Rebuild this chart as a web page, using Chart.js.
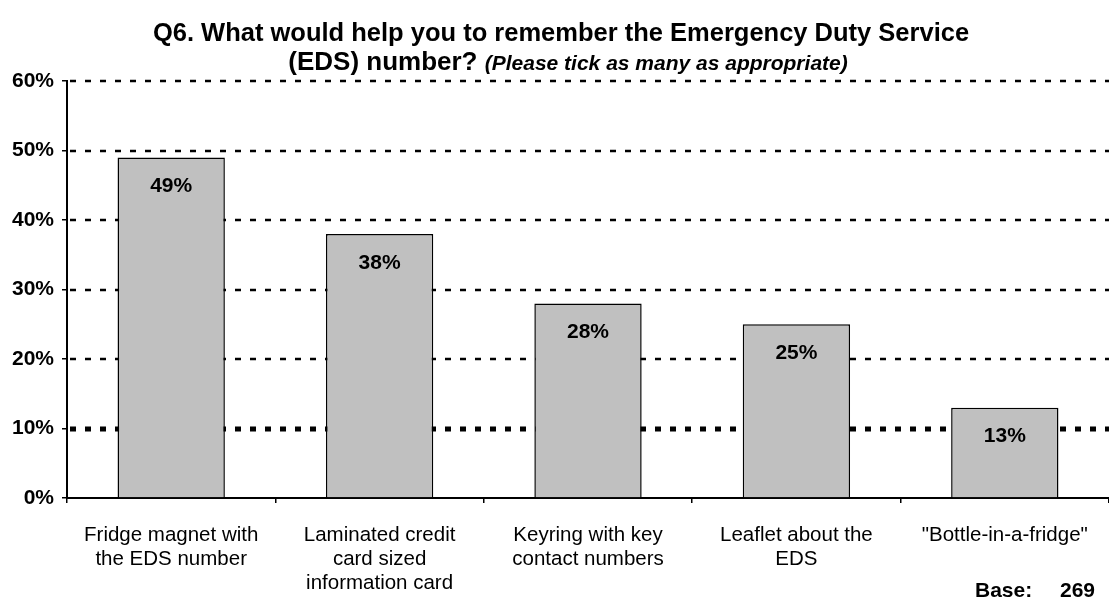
<!DOCTYPE html>
<html>
<head>
<meta charset="utf-8">
<script src="https://cdn.jsdelivr.net/npm/chart.js@4.4.0/dist/chart.umd.min.js"></script>
<style>
    html, body { margin: 0; padding: 0; background: #ffffff; }
    #wrap { width: 1109px; height: 599px; position: relative; }
</style>
</head>
<body>
<div id="wrap"><canvas id="q6_chart"></canvas></div>
<script>
var answerLabels = [
    ["Fridge magnet with", "the EDS number"],
    ["Laminated credit", "card sized", "information card"],
    ["Keyring with key", "contact numbers"],
    ["Leaflet about the", "EDS"],
    ["\"Bottle-in-a-fridge\""]
];
var answerPercent = [49, 38, 28, 25, 13];
var yTicks = [0, 10, 20, 30, 40, 50, 60];
var titleMain = "Q6. What would help you to remember the Emergency Duty Service";
var titleSecond = "(EDS) number?";
var titleNote = "(Please tick as many as appropriate)";
var baseCount = 269;

var FONT = "Arial, 'Liberation Sans', sans-serif";

// title, the dotted grid, value labels and the "Base" note are drawn by hand
const headerPlugin = {
    id: 'header',
    beforeDatasetsDraw(chart) {
        const ctx = chart.ctx;
        const area = chart.chartArea;
        const y = chart.scales.y;
        ctx.save();
        ctx.strokeStyle = '#000';
        yTicks.forEach((v) => {
            if (v === 0) return;
            const py = Math.round(y.getPixelForValue(v));
            // the 10% line is heavier than the rest
            ctx.lineWidth = (v === 10) ? 5 : 2.5;
            ctx.setLineDash([6, 9]);
            ctx.beginPath();
            ctx.moveTo(area.left + 3, py);
            ctx.lineTo(area.right, py);
            ctx.stroke();
        });
        ctx.restore();
    },
    afterDatasetsDraw(chart) {
        const ctx = chart.ctx;
        const meta = chart.getDatasetMeta(0);
        ctx.save();
        ctx.fillStyle = '#000';
        ctx.font = "bold 21px " + FONT;
        ctx.textAlign = 'center';
        ctx.textBaseline = 'middle';
        meta.data.forEach((bar, i) => {
            ctx.fillText(answerPercent[i] + '%', bar.x, bar.y + 29);
        });
        ctx.restore();
    },
    afterDraw(chart) {
        const ctx = chart.ctx;
        ctx.save();
        ctx.fillStyle = '#000';
        ctx.textBaseline = 'alphabetic';

        ctx.font = "bold 25.5px " + FONT;
        ctx.textAlign = 'center';
        ctx.fillText(titleMain, 561, 41);

        ctx.font = "bold 26px " + FONT;
        const w1 = ctx.measureText(titleSecond + " ").width;
        ctx.font = "italic bold 21px " + FONT;
        const w2 = ctx.measureText(titleNote).width;
        let x = 568 - (w1 + w2) / 2;
        ctx.textAlign = 'left';
        ctx.font = "bold 26px " + FONT;
        ctx.fillText(titleSecond + " ", x, 70);
        ctx.font = "italic bold 21px " + FONT;
        ctx.fillText(titleNote, x + w1, 70);

        ctx.font = "bold 21px " + FONT;
        ctx.fillText("Base:", 975, 597);
        ctx.textAlign = 'right';
        ctx.fillText(String(baseCount), 1095, 597);
        ctx.restore();
    }
};

const q6Chart = new Chart(document.getElementById('q6_chart'), {
    type: 'bar',
    data: {
        labels: answerLabels,
        datasets: [{
            data: answerPercent,
            backgroundColor: '#c0c0c0',
            borderColor: '#000000',
            borderWidth: 1.5,
            borderSkipped: 'bottom',
            barPercentage: 0.515,
            categoryPercentage: 1.0
        }]
    },
    options: {
        responsive: true,
        maintainAspectRatio: false,
        animation: false,
        layout: {
            padding: { top: 81, right: 0, left: 0, bottom: 0 }
        },
        scales: {
            y: {
                min: 0,
                max: 60,
                afterFit: (scale) => { scale.width = 67; },
                afterBuildTicks: (scale) => {
                    scale.ticks = yTicks.map((v) => ({ value: v }));
                },
                ticks: {
                    color: '#000',
                    padding: 8,
                    font: { family: FONT, size: 21, weight: 'bold' },
                    callback: (v) => v + '%'
                },
                grid: {
                    drawOnChartArea: false,
                    color: '#000',
                    tickLength: 5,
                    lineWidth: 1.5
                },
                border: { color: '#000', width: 2 }
            },
            x: {
                afterFit: (scale) => { scale.height = 101; },
                ticks: {
                    color: '#000',
                    padding: 20,
                    maxRotation: 0,
                    autoSkip: false,
                    font: { family: FONT, size: 20.5, lineHeight: 1.17 }
                },
                grid: {
                    offset: true,
                    drawOnChartArea: false,
                    color: '#000',
                    tickLength: 5,
                    lineWidth: 1.5
                },
                border: { color: '#000', width: 2 }
            }
        },
        plugins: {
            legend: { display: false },
            tooltip: { enabled: false },
            title: { display: false }
        }
    },
    plugins: [headerPlugin]
});
</script>
</body>
</html>
